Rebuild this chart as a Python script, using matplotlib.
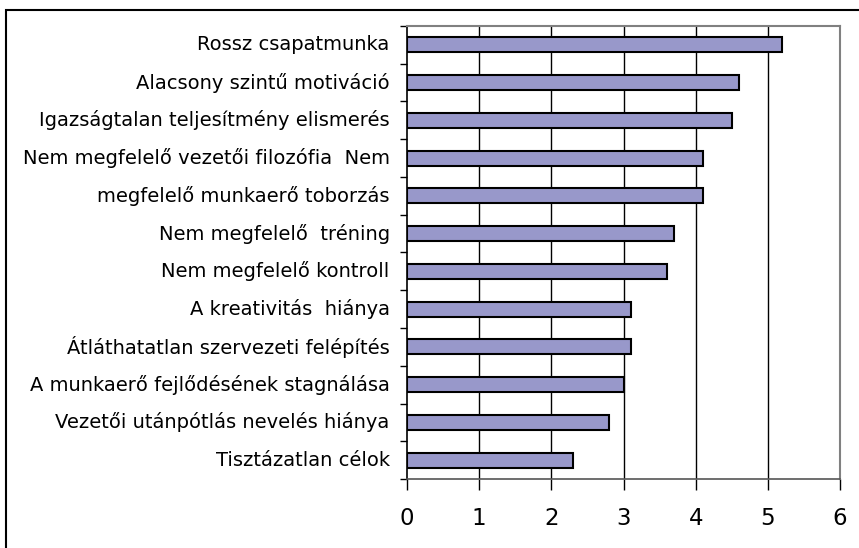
import numpy as np
import matplotlib.pyplot as plt
from matplotlib.patches import Rectangle

plt.rcParams['font.family'] = ['DejaVu Sans']

# categories listed top to bottom
labels = [
    'Rossz csapatmunka',
    'Alacsony szintű motiváció',
    'Igazságtalan teljesítmény elismerés',
    'Nem megfelelő vezetői filozófia  Nem',
    'megfelelő munkaerő toborzás',
    'Nem megfelelő  tréning',
    'Nem megfelelő kontroll',
    'A kreativitás  hiánya',
    'Átláthatatlan szervezeti felépítés',
    'A munkaerő fejlődésének stagnálása',
    'Vezetői utánpótlás nevelés hiánya',
    'Tisztázatlan célok',
]
values = [5.2, 4.6, 4.5, 4.1, 4.1, 3.7, 3.6, 3.1, 3.1, 3.0, 2.8, 2.3]
xticks = [0, 1, 2, 3, 4, 5, 6]

fig = plt.figure(figsize=(8.59, 5.48), dpi=100)
ax = fig.add_axes([0.4738, 0.1259, 0.5041, 0.8267])

n = len(labels)
y = np.arange(n)[::-1]
ax.barh(y, values, height=0.4, color='#9898ca', edgecolor='black',
        linewidth=1.5, zorder=3)

ax.set_xlim(0, 6)
ax.set_ylim(-0.5, n - 0.5)
ax.set_xticks(xticks)
ax.set_xticklabels([str(t) for t in xticks], fontsize=16.5)
for t in xticks[1:-1]:
    ax.axvline(t, color='black', linewidth=1, zorder=1)

# labels as text, ticks at category boundaries
ax.set_yticks(np.arange(-0.5, n, 1.0))
ax.set_yticklabels([])
ax.tick_params(axis='y', direction='out', length=5, width=1, color='black')
ax.tick_params(axis='x', direction='out', length=8, width=1, color='black', pad=12)
for yi, lab in zip(y, labels):
    ax.text(-0.24, yi, lab, ha='right', va='center', fontsize=14)

ax.spines['left'].set_color('black')
ax.spines['left'].set_linewidth(1.2)
ax.spines['bottom'].set_color('#555555')
ax.spines['bottom'].set_linewidth(1.2)
ax.spines['top'].set_color('#808080')
ax.spines['top'].set_linewidth(1.5)
ax.spines['right'].set_color('#808080')
ax.spines['right'].set_linewidth(1.5)

# outer chart frame (only left and top edges visible)
fig.patches.append(Rectangle((6 / 859, -0.1), 1.2, 1 - 10 / 548 + 0.1,
                             transform=fig.transFigure, fill=False,
                             edgecolor='black', linewidth=1.5))

fig.savefig('out.png', dpi=100)
